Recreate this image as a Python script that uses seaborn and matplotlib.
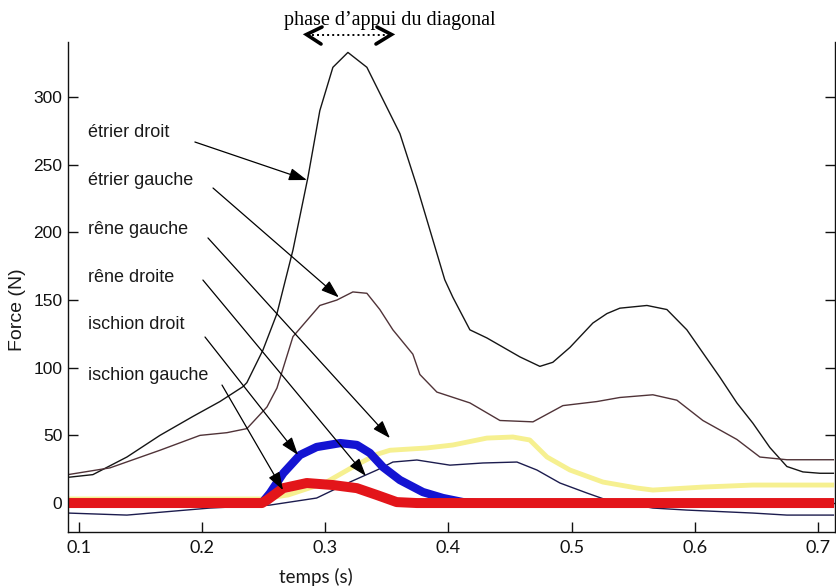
import numpy as np
import pandas as pd
import matplotlib
matplotlib.use("Agg")
import matplotlib.pyplot as plt
from matplotlib.lines import Line2D
import seaborn as sns

# ---------------- data ----------------
t_etrier_droit = [0.0912, 0.1114, 0.139, 0.1658, 0.1926, 0.2145, 0.2332, 0.2364, 0.2494, 0.2608,
                  0.2738, 0.286, 0.2956, 0.3062, 0.3184, 0.3338, 0.3606, 0.3744, 0.397, 0.4036,
                  0.4174, 0.4312, 0.458, 0.4742, 0.4847, 0.4986, 0.5172, 0.5286, 0.5391, 0.5611,
                  0.5773, 0.5935, 0.6065, 0.6203, 0.6341, 0.6471, 0.6609, 0.6747, 0.6877, 0.7015, 0.713]
f_etrier_droit = [19, 21, 34, 50, 64, 75, 86, 89, 113, 140,
                  187, 241, 290, 322, 333, 322, 273, 234, 165, 152,
                  128, 122, 108, 101, 104, 115, 133, 140, 144, 146,
                  143, 128, 111, 93, 74, 59, 41, 27, 23, 22, 22]

t_etrier_gauche = [0.0912, 0.1253, 0.1658, 0.1983, 0.2202, 0.2364, 0.2527, 0.2608, 0.2738, 0.2956,
                   0.3094, 0.3224, 0.3338, 0.3443, 0.3549, 0.3711, 0.3768, 0.3906, 0.4174, 0.4418,
                   0.4686, 0.4929, 0.5205, 0.5391, 0.5659, 0.5854, 0.6065, 0.6341, 0.6528, 0.6747, 0.713]
f_etrier_gauche = [21, 26, 39, 50, 52, 55, 71, 85, 123, 146,
                   150, 156, 155, 143, 128, 110, 95, 82, 74, 61,
                   60, 72, 75, 78, 80, 76, 61, 47, 34, 32, 32]

t_rene_gauche = [0.0912, 0.2486, 0.27, 0.30, 0.325, 0.3419, 0.3525, 0.3825, 0.4036, 0.4312,
                 0.4523, 0.466, 0.48, 0.4986, 0.5254, 0.553, 0.5659, 0.6065, 0.6471, 0.713]
f_rene_gauche = [3, 3, 6, 15, 28, 36, 39, 40.7, 42.9, 48,
                 48.8, 46.6, 34, 24.4, 15.5, 11.1, 9.6, 11.8, 13.3, 13.3]

t_rene_droite = [0.0912, 0.139, 0.2064, 0.2552, 0.293, 0.32, 0.342, 0.3549, 0.3744, 0.4012,
                 0.428, 0.4556, 0.4718, 0.4905, 0.5124, 0.5286, 0.5659, 0.5935, 0.6471, 0.6747, 0.713]
f_rene_droite = [-7.4, -8.9, -3.7, -1.5, 3.7, 15.5, 24.4, 30.3, 31.8, 28,
                 29.6, 30.3, 24.4, 14.8, 7.4, 2.2, -3.7, -5.2, -7.4, -8.9, -8.9]

t_ischion_droit = [0.0912, 0.2486, 0.2552, 0.2659, 0.2795, 0.293, 0.312, 0.3257, 0.3362, 0.3468,
                   0.3606, 0.3793, 0.3955, 0.4117, 0.425, 0.713]
f_ischion_droit = [0, 0, 7.4, 22, 35.5, 41.4, 44.3, 42.9, 37, 26.6,
                   17, 8.1, 3.7, 0.7, 0, 0]

t_ischion_gauche = [0.0912, 0.2486, 0.2527, 0.2659, 0.285, 0.3062, 0.3257, 0.342, 0.358, 0.3744, 0.713]
f_ischion_gauche = [0, 0, 2.2, 11, 14.8, 13.3, 11, 5.9, 0.7, 0, 0]

x_ticks = [0.1, 0.2, 0.3, 0.4, 0.5, 0.6, 0.7]
x_tick_labels = ["0.1", "0.2", "0.3", "0.4", "0.5", "0.6", "0.7"]
y_ticks = [0, 50, 100, 150, 200, 250, 300]
y_tick_labels = ["0", "50", "100", "150", "200", "250", "300"]

labels = ["étrier droit", "étrier gauche", "rêne gauche", "rêne droite", "ischion droit", "ischion gauche"]

# ---------------- figure ----------------
sns.set_theme(style="white")
plt.rcParams["font.family"] = ["Liberation Sans", "DejaVu Sans"]

W, H = 836, 588
fig = plt.figure(figsize=(W / 100, H / 100), dpi=100)
fig.patch.set_facecolor("white")
ax = fig.add_axes([68 / W, 1 - 532 / H, (834.7 - 68) / W, (532 - 42) / H])
ax.set_facecolor("white")

series = [
    (t_rene_gauche, f_rene_gauche, "#f6f090", 3.5),
    (t_etrier_droit, f_etrier_droit, "#151515", 1.0),
    (t_etrier_gauche, f_etrier_gauche, "#503338", 1.0),
    (t_rene_droite, f_rene_droite, "#1c1c4e", 1.0),
    (t_ischion_droit, f_ischion_droit, "#1414d2", 6.0),
    (t_ischion_gauche, f_ischion_gauche, "#e3151a", 7.2),
]
for tt, ff, col, lw in series:
    df = pd.DataFrame({"t": tt, "F": ff})
    sns.lineplot(data=df, x="t", y="F", ax=ax, color=col, lw=lw, sort=False,
                 estimator=None, solid_capstyle="butt")

ax.set_xlim(0.0912, 0.7135)
ax.set_ylim(-21.4, 340.7)
ax.set_xticks(x_ticks)
ax.set_xticklabels(x_tick_labels, family=["Lato", "DejaVu Sans"], fontsize=13)
ax.set_yticks(y_ticks)
ax.set_yticklabels(y_tick_labels, fontsize=12.5)
ax.set_xlabel("")
ax.set_ylabel("")
ax.tick_params(axis="x", direction="in", length=7, width=1, bottom=True, top=False,
               colors="#111111", pad=6)
ax.tick_params(axis="y", direction="in", length=7, width=1, left=True, right=True,
               colors="#111111", pad=4)
for s in ["left", "bottom", "right"]:
    ax.spines[s].set_visible(True)
    ax.spines[s].set_color("#111111")
    ax.spines[s].set_linewidth(1.0)
ax.spines["top"].set_visible(False)

# labels with arrows
label_y = [273.5, 238, 202.5, 167, 131.6, 94.6]
arrow_start = [(0.1942, 266.8), (0.2089, 232.8), (0.2048, 195.9), (0.2007, 164.8), (0.2024, 122.7), (0.2162, 87.2)]
arrow_tip = [(0.2851, 238.7), (0.3110, 152), (0.3525, 48.0), (0.333, 20.0), (0.2779, 35.5), (0.2657, 9.6)]
for lab, ly in zip(labels, label_y):
    ax.text(0.1074, ly, lab, fontsize=13, color="#1a1a1a", va="center", ha="left")
for (sx, sy), (ex, ey) in zip(arrow_start, arrow_tip):
    ax.annotate("", xy=(ex, ey), xytext=(sx, sy),
                arrowprops=dict(arrowstyle="-|>,head_length=1.1,head_width=0.38",
                                color="black", lw=0.9, shrinkA=0, shrinkB=0,
                                mutation_scale=10))

# axis titles
fig.text(18 / W, 1 - 310 / H, "Force (N)", rotation=90, ha="center", va="center",
         fontsize=14, color="#1a1a1a")
fig.text(316 / W, 1 - 577 / H, "temps (s)", ha="center", va="center",
         family=["Lato", "DejaVu Sans"], fontsize=13.5, color="#1a1a1a")

# top annotation
fig.text(390 / W, 1 - 21 / H, "phase d\u2019appui du diagonal", ha="center", va="center",
         family=["Liberation Serif", "DejaVu Serif"], fontsize=14.5, color="black")

def fpt(x, y):
    return x / W, 1 - y / H

for pts in ([(322, 27), (306.5, 34.5), (321, 44)], [(377, 27), (391.5, 34.5), (376, 44)]):
    xs, ys = zip(*[fpt(px, py) for px, py in pts])
    fig.add_artist(Line2D(xs, ys, transform=fig.transFigure, color="black", lw=2.6,
                          solid_joinstyle="miter"))
xs, ys = zip(*[fpt(312, 34.5), fpt(386, 34.5)])
fig.add_artist(Line2D(xs, ys, transform=fig.transFigure, color="black", lw=1.4,
                      linestyle=(0, (1, 1.6))))

fig.savefig("out.png", dpi=100, facecolor="white")
